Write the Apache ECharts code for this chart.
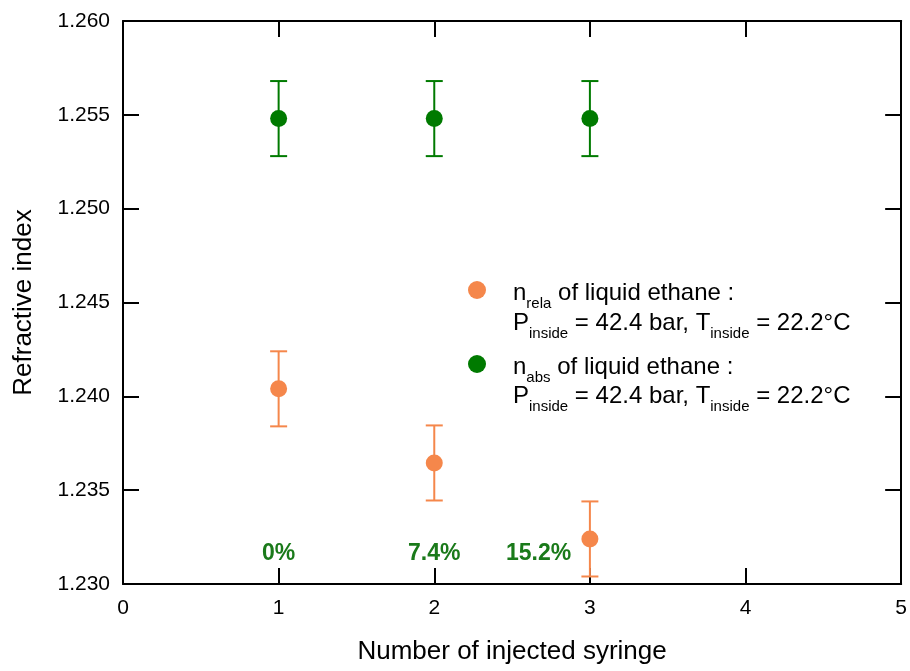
<!DOCTYPE html>
<html>
<head>
<meta charset="utf-8">
<script src="https://cdn.jsdelivr.net/npm/echarts@6/dist/echarts.min.js"></script>
<style>html,body{margin:0;padding:0;background:#fff;}#c{width:910px;height:671px;}</style>
</head>
<body>
<div id="c"></div>
<script>
// Data
const syringes = [1, 2, 3];
const nRela = [1.2404, 1.23645, 1.2324];
const nRelaErr = [0.002, 0.002, 0.002];
const nAbs = [1.2548, 1.2548, 1.2548];
const nAbsErr = [0.002, 0.002, 0.002];
const pctLabels = ['0%', '7.4%', '15.2%'];
const pctX = [1, 2, 2.67];
const pctY = [1.2316, 1.2316, 1.2316];
const xTicks = [0, 1, 2, 3, 4, 5];
const yTicks = [1.230, 1.235, 1.240, 1.245, 1.250, 1.255, 1.260];

const ORANGE = '#f5874b';
const GREEN = '#007a00';
const FONT = 'Liberation Sans, Arial, sans-serif';

function errData(xs, ys, es) {
  return xs.map((x, i) => [x, ys[i] - es[i], ys[i] + es[i]]);
}
function errSeries(name, data, color) {
  return {
    type: 'custom', name: name + '_err', silent: true, z: 3,
    renderItem: function (params, api) {
      const x = api.value(0);
      const lo = api.coord([x, api.value(1)]);
      const hi = api.coord([x, api.value(2)]);
      const hw = 8.5;
      const st = { stroke: color, lineWidth: 2 };
      return {
        type: 'group', children: [
          { type: 'line', shape: { x1: lo[0], y1: lo[1], x2: hi[0], y2: hi[1] }, style: st },
          { type: 'line', shape: { x1: lo[0] - hw, y1: lo[1], x2: lo[0] + hw, y2: lo[1] }, style: st },
          { type: 'line', shape: { x1: hi[0] - hw, y1: hi[1], x2: hi[0] + hw, y2: hi[1] }, style: st }
        ]
      };
    },
    encode: { x: 0, y: [1, 2] },
    data: data
  };
}

const chart = echarts.init(document.getElementById('c'));
const axisLine = { show: true, onZero: false, lineStyle: { color: '#000', width: 2 } };
const tick = { show: true, inside: true, length: 16, lineStyle: { color: '#000', width: 2 } };
const yMin = yTicks[0], yMax = yTicks[yTicks.length - 1];
const xMin = xTicks[0], xMax = xTicks[xTicks.length - 1];

const richMain = { fontSize: 24, fontFamily: FONT, color: '#000', fill: '#000', lineHeight: 30, verticalAlign: 'bottom' };
const richSub = { fontSize: 15, fontFamily: FONT, color: '#000', fill: '#000', lineHeight: 22, verticalAlign: 'bottom', padding: [0, 0, -6, 0] };
const line2 = '{n|P}{s|inside}{n| = 42.4 bar, T}{s|inside}{n| = 22.2°C}';

chart.setOption({
  animation: false,
  backgroundColor: '#fff',
  grid: { left: 123, right: 7, top: 21, bottom: 87, containLabel: false },
  xAxis: [{
    type: 'value', min: xMin, max: xMax, interval: 1, position: 'bottom',
    axisLine: axisLine, axisTick: tick, splitLine: { show: false },
    axisLabel: { fontSize: 21, color: '#000', fontFamily: FONT, margin: 14 },
    name: 'Number of injected syringe', nameLocation: 'middle', nameGap: 55,
    nameTextStyle: { fontSize: 26, color: '#000', fontFamily: FONT }
  }, {
    type: 'value', min: xMin, max: xMax, interval: 1, position: 'top',
    axisLine: axisLine, axisTick: tick, splitLine: { show: false },
    axisLabel: { show: false }
  }],
  yAxis: [{
    type: 'value', min: yMin, max: yMax, interval: 0.005, position: 'left',
    axisLine: axisLine, axisTick: tick, splitLine: { show: false },
    axisLabel: { fontSize: 21, color: '#000', fontFamily: FONT, margin: 13,
      formatter: v => v.toFixed(3) },
    name: 'Refractive index', nameLocation: 'middle', nameGap: 86, nameRotate: 90,
    nameTextStyle: { fontSize: 26, color: '#000', fontFamily: FONT }
  }, {
    type: 'value', min: yMin, max: yMax, interval: 0.005, position: 'right',
    axisLine: axisLine, axisTick: tick, splitLine: { show: false },
    axisLabel: { show: false }
  }],
  legend: {
    orient: 'vertical', left: 463, top: 276, itemGap: 44,
    itemWidth: 18, itemHeight: 18, icon: 'circle',
    data: ['nrela', 'nabs'],
    formatter: function (name) {
      return name === 'nrela'
        ? '{n|n}{s|rela}{n| of liquid ethane :}'
        : '{n|n}{s|abs}{n| of liquid ethane :}';
    },
    textStyle: {
      color: '#000', fontFamily: FONT, padding: [0, 0, 0, 22],
      rich: { n: richMain, s: richSub }
    }
  },
  graphic: [
    { type: 'text', left: 513, top: 311, style: { text: line2, rich: { n: richMain, s: richSub } } },
    { type: 'text', left: 513, top: 384, style: { text: line2, rich: { n: richMain, s: richSub } } }
  ],
  series: [
    errSeries('nrela', errData(syringes, nRela, nRelaErr), ORANGE),
    errSeries('nabs', errData(syringes, nAbs, nAbsErr), GREEN),
    { type: 'scatter', name: 'nrela', z: 4, symbol: 'circle', symbolSize: 17,
      itemStyle: { color: ORANGE, opacity: 1 }, data: syringes.map((x, i) => [x, nRela[i]]) },
    { type: 'scatter', name: 'nabs', z: 4, symbol: 'circle', symbolSize: 17,
      itemStyle: { color: GREEN, opacity: 1 }, data: syringes.map((x, i) => [x, nAbs[i]]) },
    { type: 'scatter', name: 'pct', z: 5, symbolSize: 0, silent: true,
      itemStyle: { opacity: 1 },
      label: { show: true, position: 'inside', formatter: p => pctLabels[p.dataIndex],
        fontSize: 23, fontWeight: 'bold', color: '#1a7a1a', opacity: 1, fontFamily: FONT },
      data: pctX.map((x, i) => [x, pctY[i]]) }
  ]
});
</script>
</body>
</html>
